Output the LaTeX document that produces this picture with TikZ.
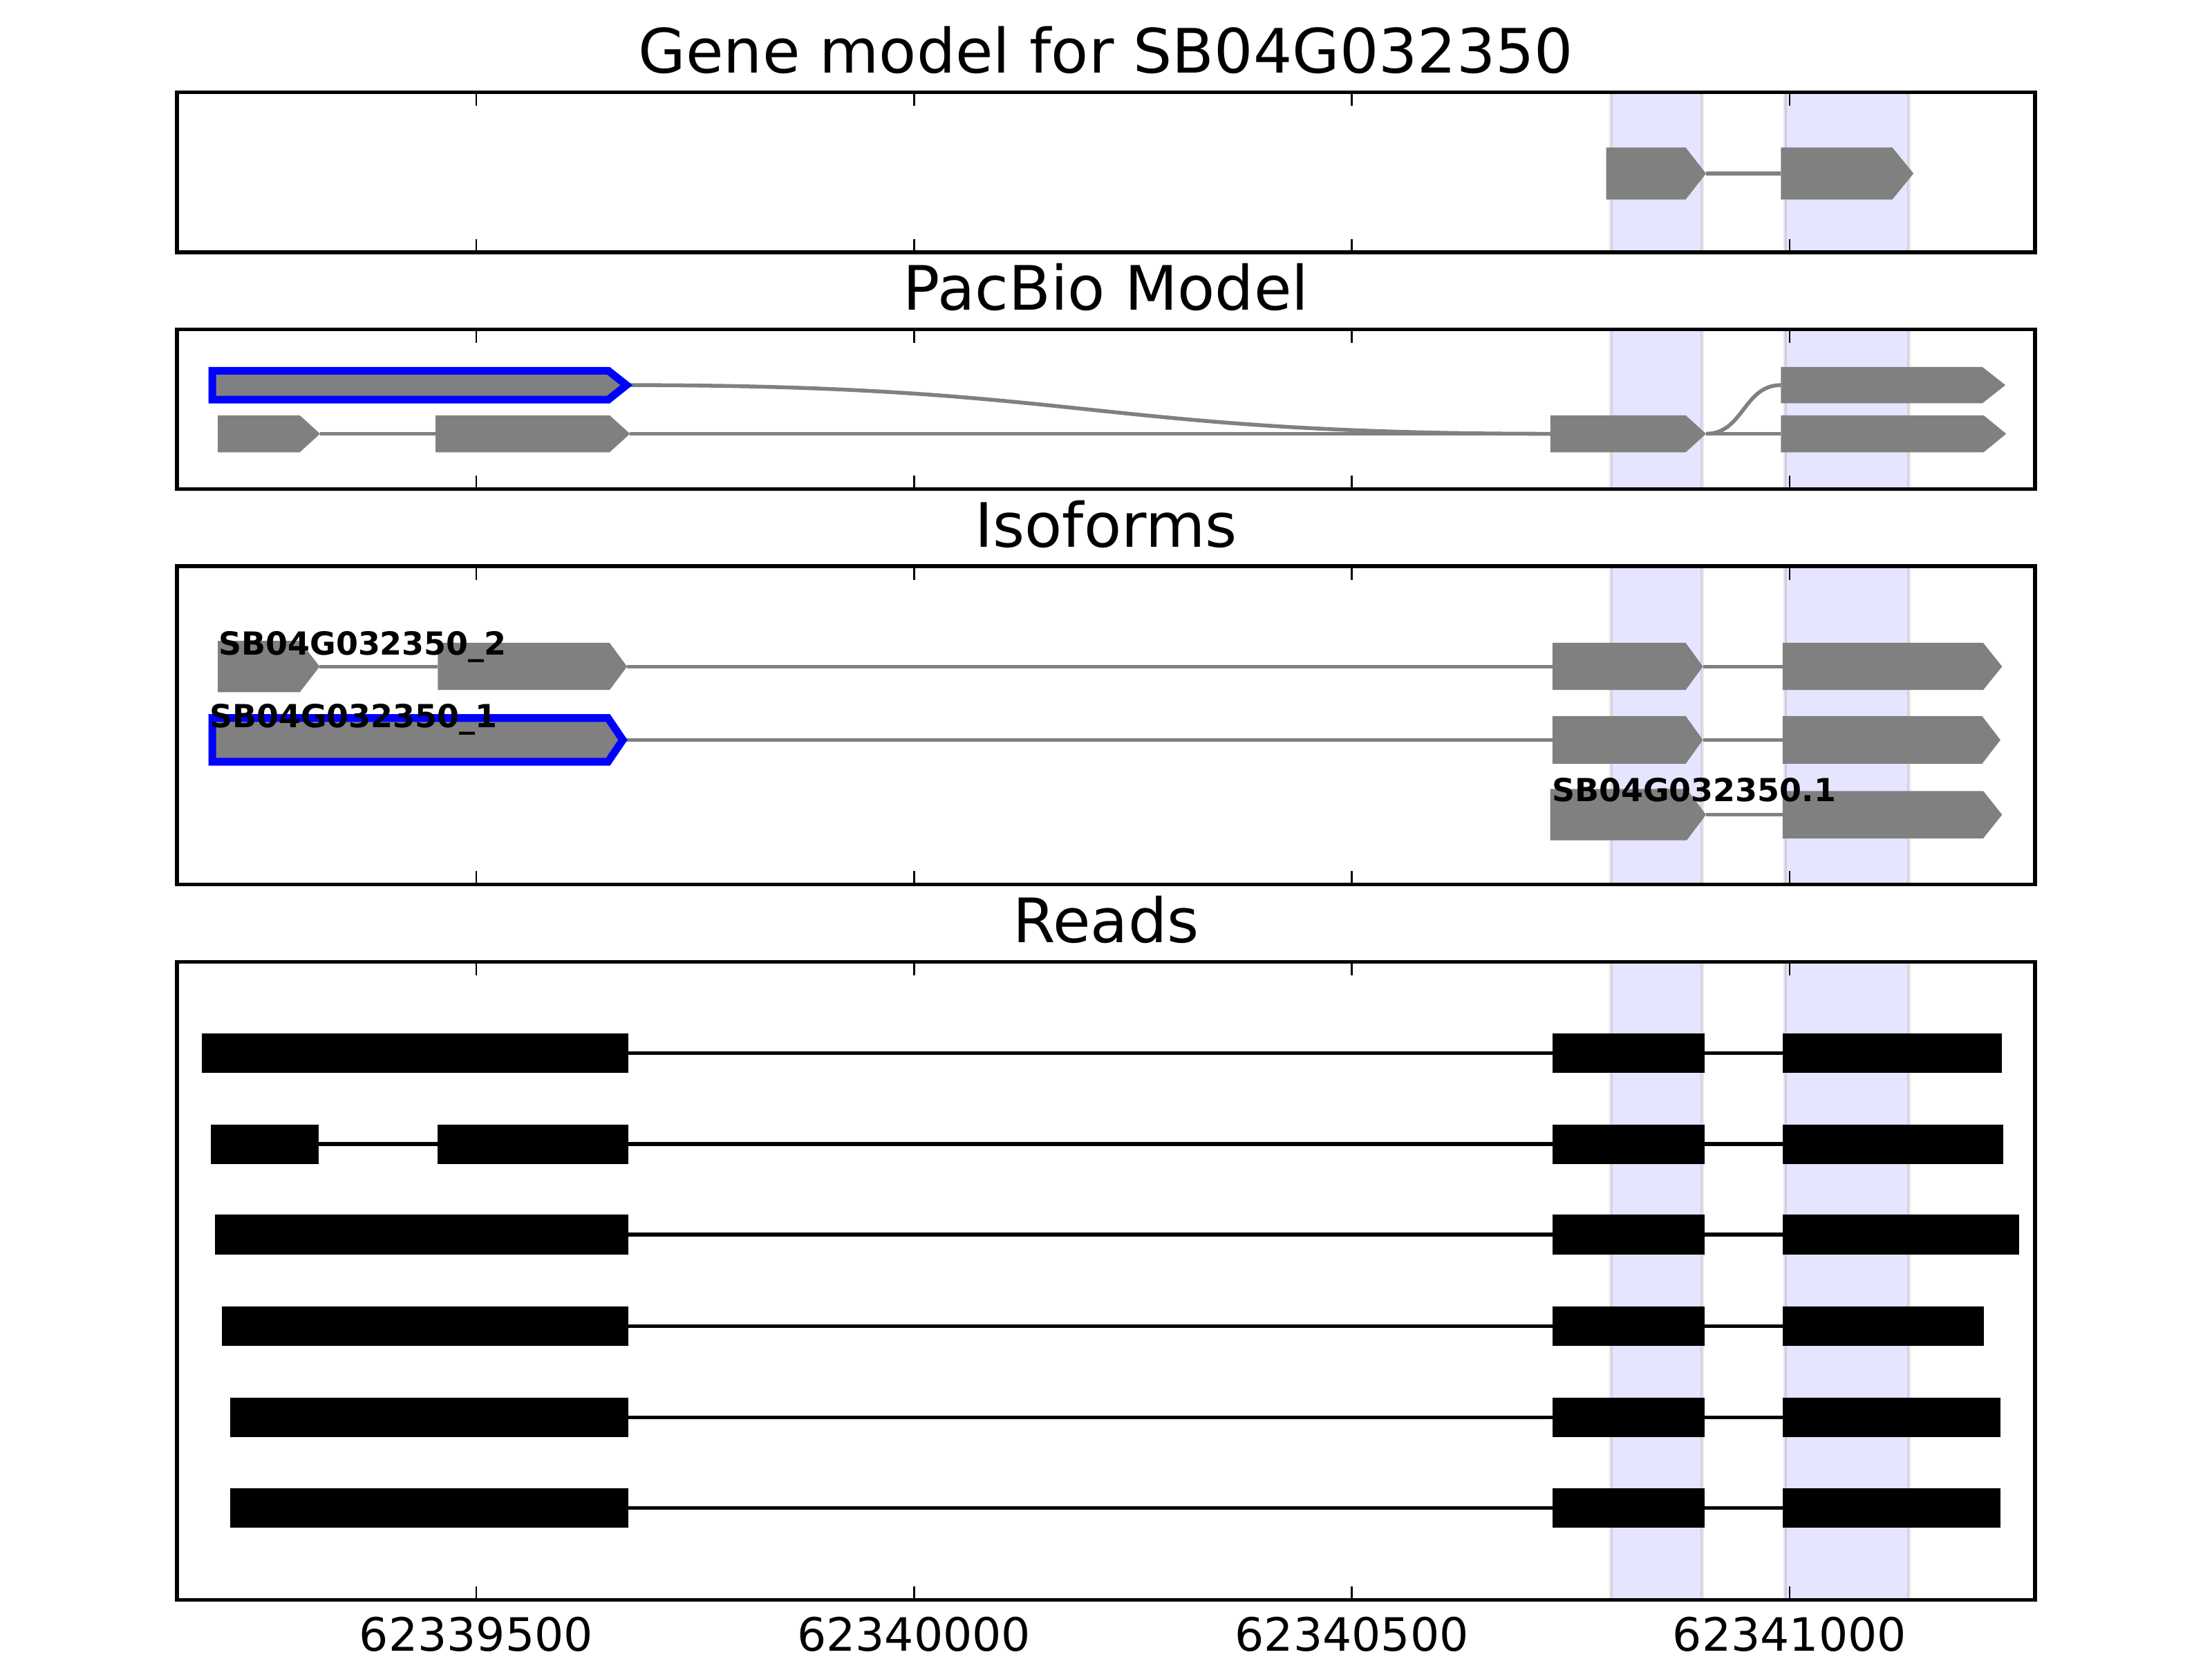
\documentclass[tikz,border=0pt]{standalone}
\usepackage{fontspec}
\setmainfont{DejaVu Sans}
\begin{document}
\begin{tikzpicture}[x=0.012959cm,y=-0.012959cm]
	\tikzstyle{every node}=[font=\fontsize{16pt}{19pt}\selectfont, inner sep=0pt]
	\tikzstyle{frame}=[draw=black, line width=1pt]
	\tikzstyle{tickmark}=[draw=black, line width=0.5pt]
	\tikzstyle{band}=[fill=blue, fill opacity=0.1, draw=black, draw opacity=0.1, line width=1pt]
	\tikzstyle{exon}=[fill=gray]
	\tikzstyle{intron}=[draw=gray, line width=1pt]
	\tikzstyle{chosen}=[fill=gray, draw=blue, line width=2pt, miter limit=10]
	\tikzstyle{readblock}=[fill=black]
	\tikzstyle{readline}=[draw=black, line width=1pt]
	\tikzstyle{isolabel}=[font=\fontsize{8.3pt}{10pt}\selectfont\bfseries, anchor=base west]
	\tikzstyle{ticklabel}=[font=\fontsize{12pt}{14pt}\selectfont, anchor=base]
	\tikzstyle{paneltitle}=[anchor=base]
	
	\useasboundingbox (0,0) rectangle (1568,1176);
	
	% shaded exon spans
	\path[band] (1142,65.5) rectangle (1206.5,178.9);
	\path[band] (1265.4,65.5) rectangle (1353,178.9);
	\path[band] (1142,233.6) rectangle (1206.5,346.7);
	\path[band] (1265.4,233.6) rectangle (1353,346.7);
	\path[band] (1142,401.4) rectangle (1206.5,626.9);
	\path[band] (1265.4,401.4) rectangle (1353,626.9);
	\path[band] (1142,681.9) rectangle (1206.5,1134);
	\path[band] (1265.4,681.9) rectangle (1353,1134);
	
	% gene model
	\draw[intron] (1209.3,123) -- (1262.4,123);
	\fill[exon] (1138.6,104.6) -- (1194.9,104.6) -- (1209.3,123) -- (1194.9,141.4) -- (1138.6,141.4) -- cycle;
	\fill[exon] (1262.4,104.6) -- (1341.4,104.6) -- (1356.4,123) -- (1341.4,141.4) -- (1262.4,141.4) -- cycle;
	
	% pacbio model
	\draw[intron] (444.1,273) .. controls (771.5,273) and (771.5,307.5) .. (1099,307.5);
	\draw[intron] (1209.3,307.5) .. controls (1235.9,307.5) and (1235.9,273) .. (1262.4,273);
	\draw[intron] (226.9,307.5) -- (308.7,307.5);
	\draw[intron] (446.6,307.5) -- (1099,307.5);
	\draw[intron] (1209.3,307.5) -- (1262.4,307.5);
	\path[chosen] (150.5,262.8) -- (431.2,262.8) -- (444.1,273) -- (431.2,283.3) -- (150.5,283.3) -- cycle;
	\fill[exon] (1262.4,260.1) -- (1405.2,260.1) -- (1421.5,273) -- (1405.2,285.9) -- (1262.4,285.9) -- cycle;
	\fill[exon] (154.4,294.4) -- (212.5,294.4) -- (226.9,307.5) -- (212.5,320.6) -- (154.4,320.6) -- cycle;
	\fill[exon] (308.7,294.4) -- (432.1,294.4) -- (446.6,307.5) -- (432.1,320.6) -- (308.7,320.6) -- cycle;
	\fill[exon] (1099,294.4) -- (1194.9,294.4) -- (1209.3,307.5) -- (1194.9,320.6) -- (1099,320.6) -- cycle;
	\fill[exon] (1262.4,294.4) -- (1406.1,294.4) -- (1422.1,307.5) -- (1406.1,320.6) -- (1262.4,320.6) -- cycle;
	
	% isoforms
	\draw[intron] (226.6,472.5) -- (310.4,472.5);
	\draw[intron] (444.5,472.5) -- (1100.5,472.5);
	\draw[intron] (1207.1,472.5) -- (1263.6,472.5);
	\fill[exon] (154.4,454.3) -- (212.5,454.3) -- (226.6,472.5) -- (212.5,490.7) -- (154.4,490.7) -- cycle;
	\fill[exon] (310.4,455.7) -- (432.1,455.7) -- (444.5,472.5) -- (432.1,489.1) -- (310.4,489.1) -- cycle;
	\fill[exon] (1100.5,455.7) -- (1194.9,455.7) -- (1207.1,472.5) -- (1194.9,489.1) -- (1100.5,489.1) -- cycle;
	\fill[exon] (1263.6,455.7) -- (1405.8,455.7) -- (1419.2,472.5) -- (1405.8,489.1) -- (1263.6,489.1) -- cycle;
	
	\draw[intron] (441.5,524.5) -- (1100.5,524.5);
	\draw[intron] (1207.1,524.5) -- (1263.6,524.5);
	\path[chosen] (150.5,509) -- (431,509) -- (441.5,524.5) -- (431,540) -- (150.5,540) -- cycle;
	\fill[exon] (1100.5,507.6) -- (1194.9,507.6) -- (1207.1,524.5) -- (1194.9,541.4) -- (1100.5,541.4) -- cycle;
	\fill[exon] (1263.6,507.6) -- (1405,507.6) -- (1418,524.5) -- (1405,541.4) -- (1263.6,541.4) -- cycle;
	
	\draw[intron] (1209.3,577.5) -- (1263.6,577.5);
	\fill[exon] (1098.9,559.3) -- (1195.6,559.3) -- (1209.3,577.5) -- (1195.6,595.7) -- (1098.9,595.7) -- cycle;
	\fill[exon] (1263.6,560.7) -- (1405.8,560.7) -- (1419.2,577.5) -- (1405.8,594.3) -- (1263.6,594.3) -- cycle;
	
	\node[isolabel] (lab-iso2) at (154.4,464.3) {SB04G032350\_2};
	\node[isolabel] (lab-iso1) at (148,515.6) {SB04G032350\_1};
	\node[isolabel] (lab-gene) at (1099.5,568.4) {SB04G032350.1};
	
	% reads
	\draw[readline] (143,746.6) -- (1418.8,746.6);
	\fill[readblock] (143,732.5) rectangle (445.5,760.7);
	\fill[readblock] (1100.5,732.5) rectangle (1208.4,760.7);
	\fill[readblock] (1263.8,732.5) rectangle (1418.8,760.7);
	
	\draw[readline] (149.6,811) -- (1419.9,811);
	\fill[readblock] (149.6,797) rectangle (225.9,825);
	\fill[readblock] (310.4,797) rectangle (445.5,825);
	\fill[readblock] (1100.5,797) rectangle (1208.4,825);
	\fill[readblock] (1263.8,797) rectangle (1419.9,825);
	
	\draw[readline] (152.3,875.1) -- (1431.5,875.1);
	\fill[readblock] (152.3,861) rectangle (445.5,889.2);
	\fill[readblock] (1100.5,861) rectangle (1208.4,889.2);
	\fill[readblock] (1263.8,861) rectangle (1431.5,889.2);
	
	\draw[readline] (157.5,940.1) -- (1406.1,940.1);
	\fill[readblock] (157.5,926) rectangle (445.5,954.2);
	\fill[readblock] (1100.5,926) rectangle (1208.4,954.2);
	\fill[readblock] (1263.8,926) rectangle (1406.1,954.2);
	
	\draw[readline] (163.3,1004.7) -- (1418.1,1004.7);
	\fill[readblock] (163.3,990.6) rectangle (445.5,1018.8);
	\fill[readblock] (1100.5,990.6) rectangle (1208.4,1018.8);
	\fill[readblock] (1263.8,990.6) rectangle (1418.1,1018.8);
	
	\draw[readline] (163.3,1069) -- (1418.1,1069);
	\fill[readblock] (163.3,1055) rectangle (445.5,1083);
	\fill[readblock] (1100.5,1055) rectangle (1208.4,1083);
	\fill[readblock] (1263.8,1055) rectangle (1418.1,1083);
	
	% frames and ticks
	\draw[tickmark] (337.6,65.5) -- ++(0,9.5) (647.9,65.5) -- ++(0,9.5) (958.3,65.5) -- ++(0,9.5) (1268.6,65.5) -- ++(0,9.5);
	\draw[tickmark] (337.6,178.9) -- ++(0,-9.5) (647.9,178.9) -- ++(0,-9.5) (958.3,178.9) -- ++(0,-9.5) (1268.6,178.9) -- ++(0,-9.5);
	\draw[tickmark] (337.6,233.6) -- ++(0,9.5) (647.9,233.6) -- ++(0,9.5) (958.3,233.6) -- ++(0,9.5) (1268.6,233.6) -- ++(0,9.5);
	\draw[tickmark] (337.6,346.7) -- ++(0,-9.5) (647.9,346.7) -- ++(0,-9.5) (958.3,346.7) -- ++(0,-9.5) (1268.6,346.7) -- ++(0,-9.5);
	\draw[tickmark] (337.6,401.4) -- ++(0,9.5) (647.9,401.4) -- ++(0,9.5) (958.3,401.4) -- ++(0,9.5) (1268.6,401.4) -- ++(0,9.5);
	\draw[tickmark] (337.6,626.9) -- ++(0,-9.5) (647.9,626.9) -- ++(0,-9.5) (958.3,626.9) -- ++(0,-9.5) (1268.6,626.9) -- ++(0,-9.5);
	\draw[tickmark] (337.6,681.9) -- ++(0,9.5) (647.9,681.9) -- ++(0,9.5) (958.3,681.9) -- ++(0,9.5) (1268.6,681.9) -- ++(0,9.5);
	\draw[tickmark] (337.6,1134) -- ++(0,-9.5) (647.9,1134) -- ++(0,-9.5) (958.3,1134) -- ++(0,-9.5) (1268.6,1134) -- ++(0,-9.5);
	
	\draw[frame] (125.5,65.5) rectangle (1442.5,178.9);
	\draw[frame] (125.5,233.6) rectangle (1442.5,346.7);
	\draw[frame] (125.5,401.4) rectangle (1442.5,626.9);
	\draw[frame] (125.5,681.9) rectangle (1442.5,1134);
	
	% titles and axis labels
	\node[paneltitle] (t-gene) at (784,51.8) {Gene model for SB04G032350};
	\node[paneltitle] (t-pacbio) at (784,219.9) {PacBio Model};
	\node[paneltitle] (t-iso) at (784,387.7) {Isoforms};
	\node[paneltitle] (t-reads) at (784,668.2) {Reads};
	
	\node[ticklabel] (x-39500) at (337.6,1170.3) {62339500};
	\node[ticklabel] (x-40000) at (647.9,1170.3) {62340000};
	\node[ticklabel] (x-40500) at (958.3,1170.3) {62340500};
	\node[ticklabel] (x-41000) at (1268.6,1170.3) {62341000};
	
\end{tikzpicture}
\end{document}
